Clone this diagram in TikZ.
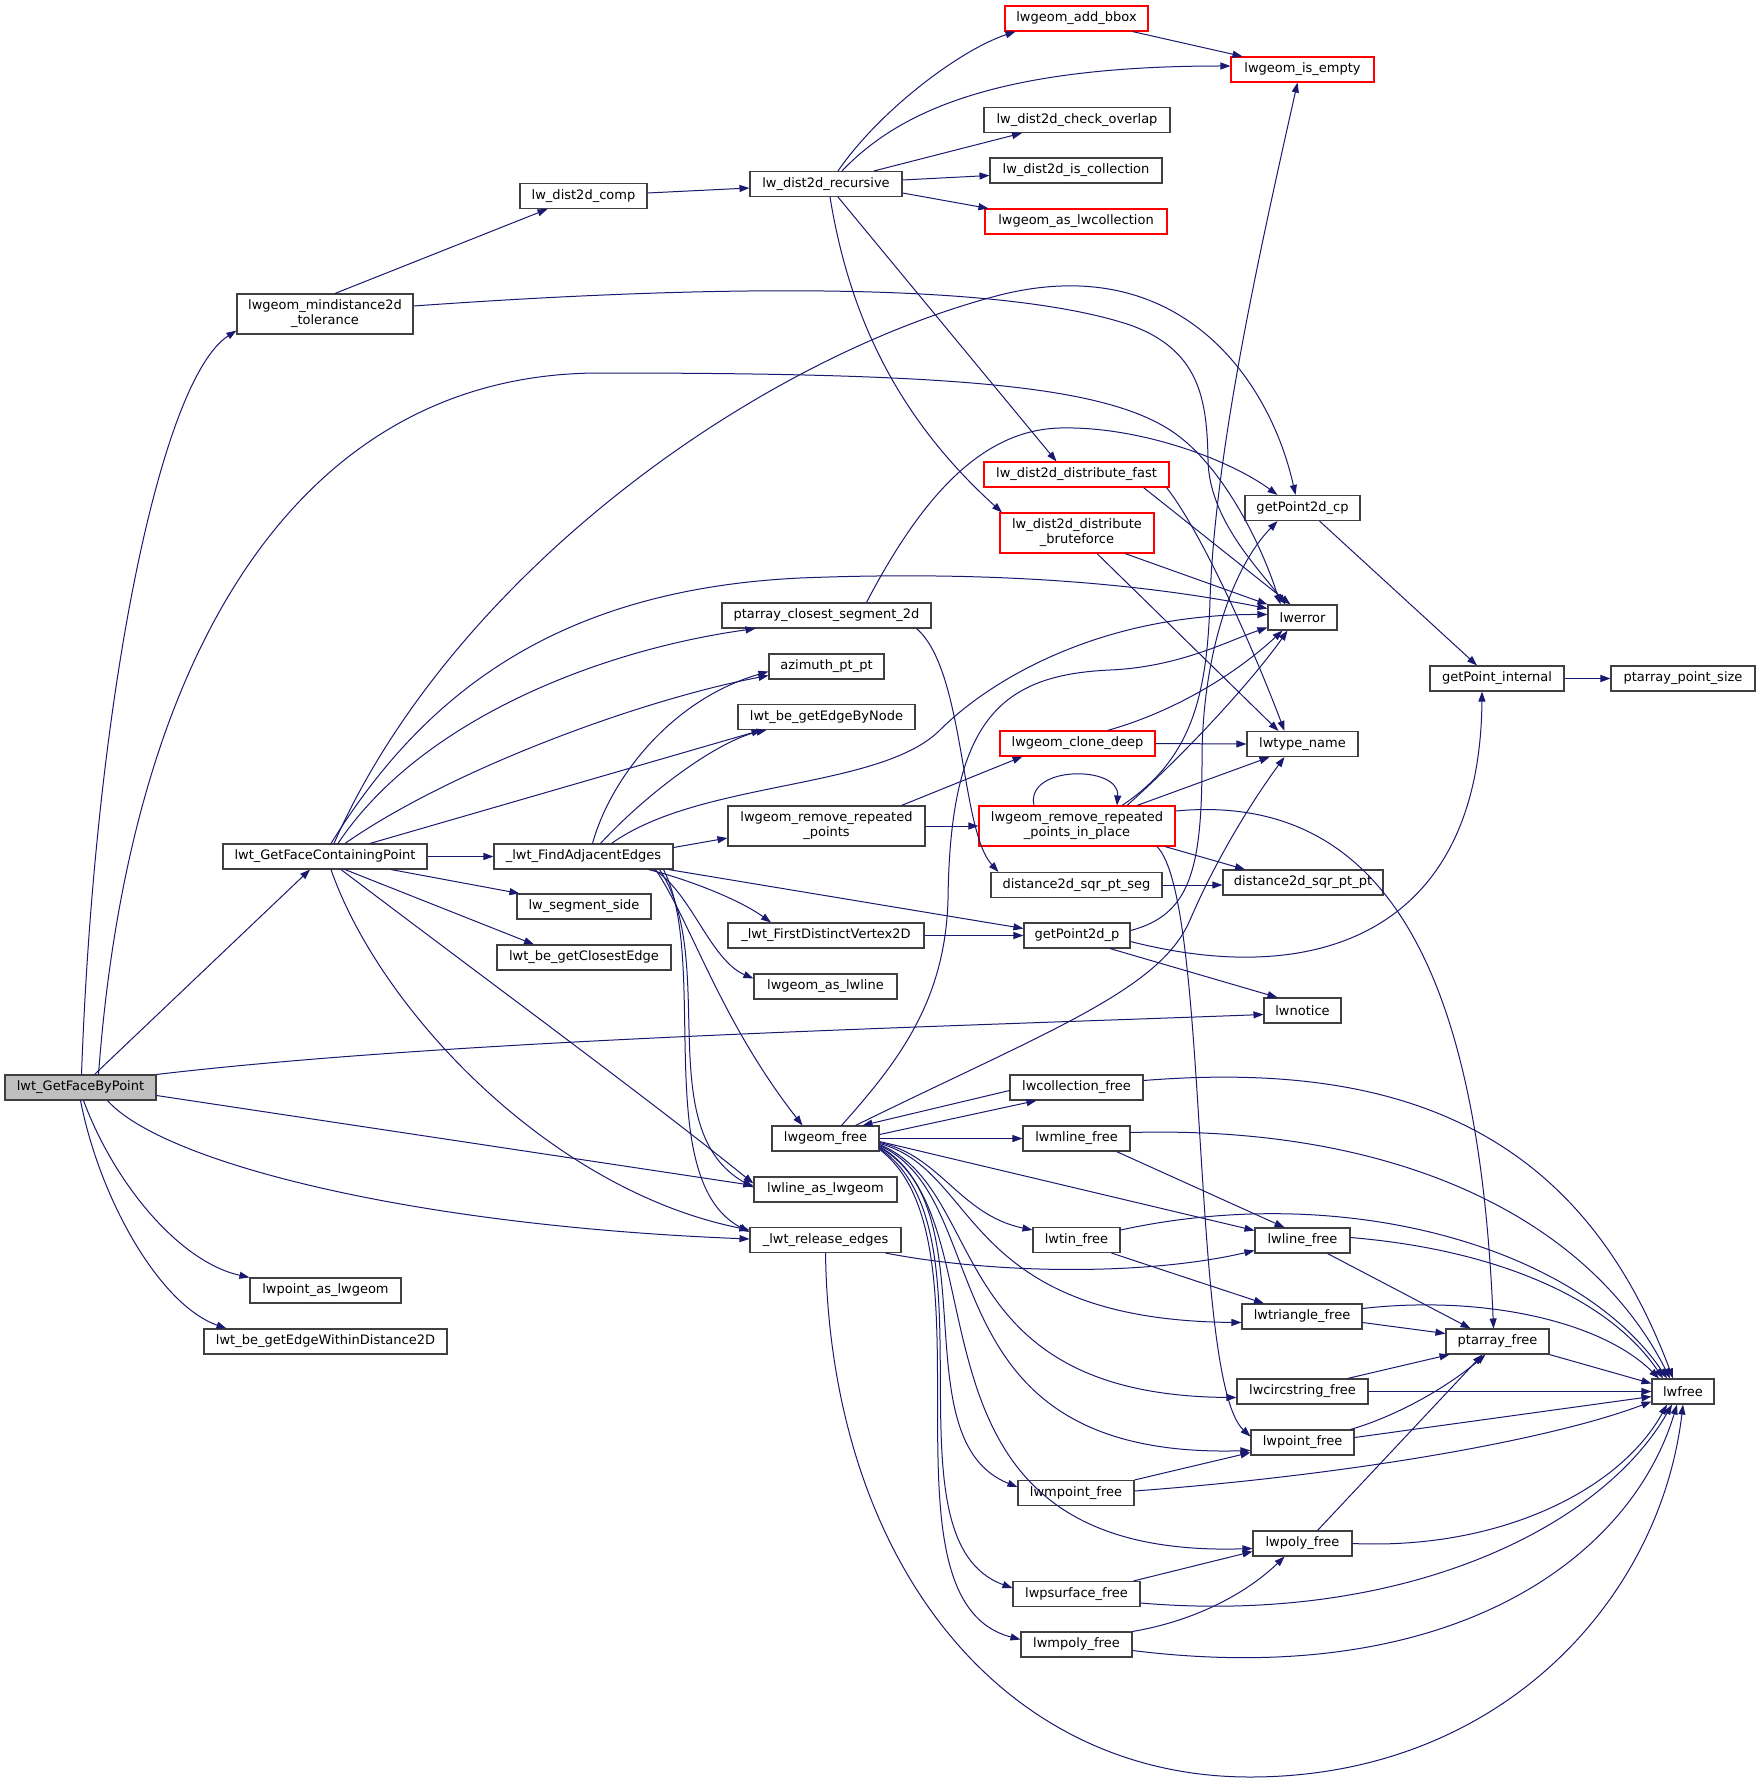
\documentclass[tikz,border=0pt]{standalone}
\usepackage{fontspec}
\setmainfont{DejaVu Sans}
\usetikzlibrary{arrows.meta}
\definecolor{edgeblue}{HTML}{191970}
\definecolor{boxline}{HTML}{404040}
\definecolor{boxred}{HTML}{FF0000}
\definecolor{curfill}{HTML}{BFBFBF}
\tikzset{
  fn/.style={draw=boxline, line width=1.1pt, fill=white, inner xsep=2pt, inner ysep=0pt,
    minimum height=25pt, font=\fontsize{13}{15}\selectfont, align=center},
  fnred/.style={fn, draw=boxred},
  fntwo/.style={minimum height=40pt},
  call/.style={draw=edgeblue, line width=1pt, -{Triangle[length=10pt,width=7pt]}},
}
\begin{document}
\begin{tikzpicture}[x=1pt,y=-1pt]
\useasboundingbox[fill=white] (0,0) rectangle (1760,1784);
% ---------------- nodes
\node[fn, fill=curfill, minimum width=151pt] (F) at (80.5,1087.5) {lwt\_GetFaceByPoint};
\node[fn, fntwo, minimum width=176pt] (mind) at (325,314) {lwgeom\_mindistance2d\\\_tolerance};
\node[fn, minimum width=127pt] (comp) at (583.5,196) {lw\_dist2d\_comp};
\node[fn, minimum width=152pt] (rec) at (826,184) {lw\_dist2d\_recursive};
\node[fnred, minimum width=143pt] (bbox) at (1076.5,18.5) {lwgeom\_add\_bbox};
\node[fnred, minimum width=143pt] (empty) at (1302.5,69.5) {lwgeom\_is\_empty};
\node[fn, minimum width=186pt] (overlap) at (1077,120) {lw\_dist2d\_check\_overlap};
\node[fn, minimum width=172pt] (iscoll) at (1076,170.5) {lw\_dist2d\_is\_collection};
\node[fnred, minimum width=182pt] (aslwcoll) at (1076,221.5) {lwgeom\_as\_lwcollection};
\node[fnred, minimum width=185pt] (fast) at (1076.5,474.5) {lw\_dist2d\_distribute\_fast};
\node[fnred, fntwo, minimum width=154pt] (brute) at (1077,533) {lw\_dist2d\_distribute\\\_bruteforce};
\node[fn, minimum width=115pt] (gp2cp) at (1302.5,508) {getPoint2d\_cp};
\node[fn, minimum width=69pt] (lwerror) at (1302.5,617.5) {lwerror};
\node[fn, minimum width=134pt] (gpint) at (1497,678.5) {getPoint\_internal};
\node[fn, minimum width=144pt] (ptsize) at (1683,678.5) {ptarray\_point\_size};
\node[fn, minimum width=209pt] (pcs2d) at (826.5,615.5) {ptarray\_closest\_segment\_2d};
\node[fn, minimum width=115pt] (azim) at (826.5,666.5) {azimuth\_pt\_pt};
\node[fn, minimum width=177pt] (getEBN) at (826.5,717) {lwt\_be\_getEdgeByNode};
\node[fnred, minimum width=155pt] (clone) at (1077.5,743.5) {lwgeom\_clone\_deep};
\node[fn, minimum width=111pt] (tname) at (1302.5,744) {lwtype\_name};
\node[fn, minimum width=204pt] (GFCP) at (325,856.5) {lwt\_GetFaceContainingPoint};
\node[fn, minimum width=179pt] (FAE) at (583.5,856.5) {\_lwt\_FindAdjacentEdges};
\node[fn, fntwo, minimum width=197pt] (rrp) at (826.5,826) {lwgeom\_remove\_repeated\\\_points};
\node[fnred, fntwo, minimum width=196pt] (rrpip) at (1077,826) {lwgeom\_remove\_repeated\\\_points\_in\_place};
\node[fn, minimum width=171pt] (d2seg) at (1076.5,885) {distance2d\_sqr\_pt\_seg};
\node[fn, minimum width=160pt] (d2pt) at (1303,882.5) {distance2d\_sqr\_pt\_pt};
\node[fn, minimum width=134pt] (segside) at (584,906.5) {lw\_segment\_side};
\node[fn, minimum width=174pt] (closest) at (584,957.5) {lwt\_be\_getClosestEdge};
\node[fn, minimum width=196pt] (FDV) at (826,935.5) {\_lwt\_FirstDistinctVertex2D};
\node[fn, minimum width=106pt] (gp2p) at (1077,935.5) {getPoint2d\_p};
\node[fn, minimum width=143pt] (aslwline) at (825.5,986.5) {lwgeom\_as\_lwline};
\node[fn, minimum width=77pt] (lwnotice) at (1302.5,1010.5) {lwnotice};
\node[fn, minimum width=133pt] (collfree) at (1076.5,1087.5) {lwcollection\_free};
\node[fn, minimum width=107pt] (gfree) at (825.5,1138.5) {lwgeom\_free};
\node[fn, minimum width=107pt] (mlinefree) at (1076.5,1138.5) {lwmline\_free};
\node[fn, minimum width=143pt] (linegeom) at (825.5,1189.5) {lwline\_as\_lwgeom};
\node[fn, minimum width=151pt] (release) at (825.5,1240) {\_lwt\_release\_edges};
\node[fn, minimum width=87pt] (tinfree) at (1076.5,1240) {lwtin\_free};
\node[fn, minimum width=95pt] (linefree) at (1302.5,1240.5) {lwline\_free};
\node[fn, minimum width=120pt] (trifree) at (1302,1316.5) {lwtriangle\_free};
\node[fn, minimum width=103pt] (ptfree) at (1497.5,1341.5) {ptarray\_free};
\node[fn, minimum width=131pt] (circfree) at (1302.5,1391.5) {lwcircstring\_free};
\node[fn, minimum width=62pt] (lwfree) at (1683,1391.5) {lwfree};
\node[fn, minimum width=103pt] (pointfree) at (1302.5,1442.5) {lwpoint\_free};
\node[fn, minimum width=116pt] (mpointfree) at (1076,1493) {lwmpoint\_free};
\node[fn, minimum width=99pt] (polyfree) at (1302.5,1543.5) {lwpoly\_free};
\node[fn, minimum width=127pt] (psurffree) at (1076.5,1594) {lwpsurface\_free};
\node[fn, minimum width=111pt] (mpolyfree) at (1076.5,1644.5) {lwmpoly\_free};
\node[fn, minimum width=151pt] (ptgeom) at (325.5,1290.5) {lwpoint\_as\_lwgeom};
\node[fn, minimum width=243pt] (EWD) at (325.5,1341.5) {lwt\_be\_getEdgeWithinDistance2D};
% ---------------- edges
% lwt_GetFaceByPoint
\draw[call] ([xshift=1pt]F.north) .. controls (95,700) and (160,380) .. ([yshift=4pt]mind.south west);
\draw[call] ([xshift=18pt]F.north) .. controls (130,650) and (300,373) .. (600,373) .. controls (950,373) and (1100,385) .. (1170,430) .. controls (1220,462) and (1260,540) .. ([xshift=-22pt]lwerror.north);
\draw[call] ([xshift=14pt]F.north) -- ([xshift=-15pt]GFCP.south);
\draw[call] (F.north east) .. controls (450,1040) and (900,1028) .. ([yshift=-4pt]lwnotice.west);
\draw[call] ([yshift=-8pt]F.east) -- ([yshift=4pt]linegeom.west);
\draw[call] ([xshift=27pt]F.south) .. controls (160,1160) and (400,1225) .. ([yshift=1pt]release.west);
\draw[call] ([xshift=3pt]F.south) .. controls (115,1185) and (180,1262) .. (ptgeom.north west);
\draw[call] (F.south) .. controls (100,1200) and (160,1305) .. ([xshift=-99pt]EWD.north);
% mindistance
\draw[call] ([xshift=10pt]mind.north) -- ([xshift=-36pt]comp.south);
\draw[call] ([yshift=8pt]mind.east) .. controls (750,282) and (1010,285) .. (1130,325) .. controls (1200,350) and (1207,400) .. (1208,460) .. controls (1209,520) and (1260,570) .. ([xshift=-17pt]lwerror.north);
% comp / recursive
\draw[call] ([yshift=3pt]comp.east) -- ([yshift=-4pt]rec.west);
\draw[call] ([xshift=12pt]rec.north) .. controls (880,110) and (960,50) .. ([xshift=-61pt]bbox.south);
\draw[call] ([xshift=16pt]rec.north) .. controls (900,110) and (1000,66) .. ([yshift=3.5pt]empty.west);
\draw[call] ([xshift=48pt]rec.north) -- ([xshift=-55pt]overlap.south);
\draw[call] ([yshift=4pt]rec.east) -- ([yshift=-5pt]iscoll.west);
\draw[call] ([yshift=-9pt]rec.east) -- ([xshift=4pt]aslwcoll.north west);
\draw[call] ([xshift=12pt]rec.south) -- ([xshift=-20pt]fast.north);
\draw[call] ([xshift=4pt]rec.south) .. controls (850,320) and (900,420) .. ([xshift=-75pt]brute.north);
\draw[call] ([xshift=56pt]bbox.south) -- ([xshift=-60pt]empty.north);
% distribute
\draw[call] ([xshift=67pt]fast.south) -- ([xshift=-12pt]lwerror.north);
\draw[call] ([xshift=90pt]fast.south) .. controls (1200,530) and (1250,640) .. ([xshift=-18pt]tname.north);
\draw[call] ([xshift=48pt]brute.south) -- (lwerror.north west);
\draw[call] ([xshift=20pt]brute.south) -- ([xshift=-24pt]tname.north);
% getPoint
\draw[call] ([xshift=17pt]gp2cp.south) -- ([xshift=-20pt]gpint.north);
\draw[call] (gpint.east) -- (ptsize.west);
% GetFaceContainingPoint
\draw[call] ([xshift=9pt]GFCP.north) .. controls (450,580) and (750,360) .. (1000,295) .. controls (1180,250) and (1270,380) .. ([xshift=-7pt]gp2cp.north);
\draw[call] ([xshift=6pt]GFCP.north) .. controls (420,700) and (550,590) .. (800,578) .. controls (1000,570) and (1150,585) .. ([yshift=9pt]lwerror.west);
\draw[call] ([xshift=13pt]GFCP.north) .. controls (420,720) and (600,650) .. ([xshift=-71pt]pcs2d.south);
\draw[call] ([xshift=20pt]GFCP.north) .. controls (450,770) and (640,700) .. ([yshift=-9pt]azim.west);
\draw[call] ([xshift=45pt]GFCP.north) -- ([xshift=-65pt]getEBN.south);
\draw[call] (GFCP.east) -- (FAE.west);
\draw[call] ([xshift=66pt]GFCP.south) -- ([xshift=3pt]segside.north west);
\draw[call] ([xshift=20pt]GFCP.south) -- ([xshift=-50pt]closest.north);
\draw[call] ([xshift=16pt]GFCP.south) .. controls (500,990) and (650,1100) .. ([yshift=6pt]linegeom.west);
\draw[call] ([xshift=6pt]GFCP.south) .. controls (380,1010) and (550,1190) .. ([yshift=10pt]release.west);
% FindAdjacentEdges
\draw[call] ([xshift=28pt]FAE.north) .. controls (700,780) and (880,790) .. (940,730) .. controls (990,680) and (1100,614) .. ([yshift=3pt]lwerror.west);
\draw[call] ([xshift=9pt]FAE.north) .. controls (610,780) and (670,700) .. ([yshift=-5pt]azim.west);
\draw[call] ([xshift=17pt]FAE.north) .. controls (650,790) and (720,740) .. ([xshift=-60pt]getEBN.south);
\draw[call] ([yshift=9pt]FAE.east) -- ([yshift=-12pt]rrp.west);
\draw[call] ([xshift=85pt]FAE.south) -- ([yshift=7pt]gp2p.west);
\draw[call] ([xshift=65pt]FAE.south) .. controls (690,880) and (740,900) .. ([xshift=-55pt]FDV.north);
\draw[call] ([xshift=70pt]FAE.south) .. controls (690,890) and (710,960) .. ([yshift=8pt]aslwline.west);
\draw[call] ([xshift=72pt]FAE.south) .. controls (690,920) and (720,1020) .. ([xshift=-23pt]gfree.north);
\draw[call] ([xshift=76pt]FAE.south) .. controls (720,960) and (650,1130) .. ([yshift=2pt]linegeom.west);
\draw[call] ([xshift=80pt]FAE.south) .. controls (710,960) and (650,1180) .. ([yshift=8pt]release.west);
% remove repeated
\draw[call] ([xshift=75pt]rrp.north) -- ([xshift=-55pt]clone.south);
\draw[call] (rrp.east) -- (rrpip.west);
\draw[call] ([xshift=-43pt]rrpip.north) .. controls (1025,765) and (1120,765) .. ([xshift=40pt]rrpip.north);
\draw[call] ([xshift=50pt]rrpip.north) .. controls (1200,740) and (1260,670) .. ([xshift=-15pt]lwerror.south);
\draw[call] ([xshift=45pt]rrpip.north) .. controls (1190,760) and (1207,700) .. (1210,600) .. controls (1215,450) and (1260,250) .. ([xshift=-5pt]empty.south);
\draw[call] ([xshift=60pt]rrpip.north) -- ([xshift=-33pt]tname.south);
\draw[call] ([xshift=88pt]rrpip.south) -- ([xshift=-58pt]d2pt.north);
\draw[call] ([yshift=15pt]rrpip.east) .. controls (1400,790) and (1480,1000) .. ([xshift=-4pt]ptfree.north);
\draw[call] ([xshift=80pt]rrpip.south) .. controls (1210,900) and (1190,1380) .. ([yshift=6pt]pointfree.west);
% clone
\draw[call] ([xshift=30pt]clone.north) .. controls (1180,710) and (1240,670) .. ([xshift=-20pt]lwerror.south);
\draw[call] (clone.east) -- (tname.west);
% distance / closest segment
\draw[call] (d2seg.east) -- ([yshift=-2.5pt]d2pt.west);
\draw[call] ([xshift=40pt]pcs2d.north) .. controls (920,500) and (980,430) .. (1060,428) .. controls (1140,426) and (1230,460) .. ([xshift=-25pt]gp2cp.north);
\draw[call] ([xshift=90pt]pcs2d.south) .. controls (965,670) and (960,830) .. ([xshift=-78pt]d2seg.north);
% first distinct vertex / getPoint2d_p
\draw[call] (FDV.east) -- (gp2p.west);
\draw[call] ([yshift=5pt]gp2p.east) .. controls (1190,915) and (1202,870) .. (1202,760) .. controls (1202,660) and (1230,570) .. ([xshift=-25pt]gp2cp.south);
\draw[call] ([yshift=-6pt]gp2p.east) .. controls (1320,990) and (1480,930) .. ([xshift=-15pt]gpint.south);
\draw[call] ([xshift=33pt]gp2p.south) -- ([xshift=-25pt]lwnotice.north);
% lwgeom_free
\draw[call] ([xshift=16pt]gfree.north) .. controls (900,1060) and (945,1000) .. (948,900) .. controls (950,720) and (1000,675) .. (1110,670) .. controls (1180,667) and (1230,640) .. ([yshift=-10pt]lwerror.west);
\draw[call] ([xshift=30pt]gfree.north) .. controls (1050,1030) and (1160,990) .. (1190,920) .. controls (1220,850) and (1260,790) .. ([xshift=-18pt]tname.south);
\draw[call] ([yshift=4pt]gfree.east) -- ([xshift=-40pt]collfree.south);
\draw[call] ([yshift=-3pt]collfree.west) -- ([xshift=37pt]gfree.north);
\draw[call] (gfree.east) -- (mlinefree.west);
\draw[call] ([yshift=-3pt]gfree.east) -- ([yshift=10pt]linefree.west);
\draw[call] ([yshift=-4pt]gfree.east) .. controls (940,1155) and (960,1215) .. ([yshift=10pt]tinfree.west);
\draw[call] ([yshift=-5pt]gfree.east) .. controls (980,1170) and (960,1320) .. ([yshift=-6pt]trifree.west);
\draw[call] ([yshift=-6pt]gfree.east) .. controls (990,1190) and (940,1395) .. ([yshift=-6pt]circfree.west);
\draw[call] ([yshift=-7pt]gfree.east) .. controls (1000,1200) and (920,1460) .. ([yshift=-8pt]pointfree.west);
\draw[call] ([yshift=-8pt]gfree.east) .. controls (990,1210) and (900,1440) .. ([yshift=6pt]mpointfree.west);
\draw[call] ([yshift=-9pt]gfree.east) .. controls (1010,1220) and (880,1560) .. ([yshift=-5pt]polyfree.west);
\draw[call] ([yshift=-10pt]gfree.east) .. controls (1000,1230) and (880,1540) .. ([yshift=6pt]psurffree.west);
\draw[call] ([yshift=-11pt]gfree.east) .. controls (1000,1240) and (870,1600) .. ([yshift=5pt]mpolyfree.west);
% free functions
\draw[call] ([yshift=7pt]collfree.east) .. controls (1400,1060) and (1580,1130) .. ([xshift=-10pt]lwfree.north);
\draw[call] ([yshift=6pt]mlinefree.east) .. controls (1400,1125) and (1590,1220) .. ([xshift=-13pt]lwfree.north);
\draw[call] ([xshift=40pt]mlinefree.south) -- ([xshift=-18pt]linefree.north);
\draw[call] ([yshift=10pt]tinfree.east) .. controls (1350,1180) and (1580,1250) .. ([xshift=-16pt]lwfree.north);
\draw[call] ([xshift=35pt]tinfree.south) -- ([xshift=-38pt]trifree.north);
\draw[call] ([yshift=3pt]linefree.east) .. controls (1500,1250) and (1610,1300) .. ([xshift=-20pt]lwfree.north);
\draw[call] ([xshift=25pt]linefree.south) -- ([xshift=-27pt]ptfree.north);
\draw[call] ([xshift=60pt]release.south) .. controls (1000,1275) and (1150,1275) .. ([yshift=-10pt]linefree.west);
\draw[call] (release.south) .. controls (830,1560) and (1000,1777) .. (1250,1777) .. controls (1500,1777) and (1660,1600) .. (lwfree.south);
\draw[call] ([yshift=8pt]trifree.east) .. controls (1480,1295) and (1600,1320) .. ([xshift=-24pt]lwfree.north);
\draw[call] ([yshift=-6pt]trifree.east) -- ([yshift=8pt]ptfree.west);
\draw[call] ([xshift=45pt]circfree.north) -- ([xshift=-48pt]ptfree.south);
\draw[call] (circfree.east) -- (lwfree.west);
\draw[call] ([xshift=48pt]pointfree.north) .. controls (1400,1415) and (1450,1385) .. ([xshift=-12pt]ptfree.south);
\draw[call] ([yshift=5pt]pointfree.east) -- ([yshift=-5pt]lwfree.west);
\draw[call] (mpointfree.north east) -- ([yshift=-10pt]pointfree.west);
\draw[call] ([yshift=2pt]mpointfree.east) .. controls (1350,1475) and (1550,1440) .. ([yshift=-10pt]lwfree.west);
\draw[call] ([xshift=15pt]polyfree.north) -- ([xshift=-15pt]ptfree.south);
\draw[call] (polyfree.east) .. controls (1500,1550) and (1620,1490) .. ([xshift=-16pt]lwfree.south);
\draw[call] ([xshift=57pt]psurffree.north) -- ([yshift=-8pt]polyfree.west);
\draw[call] ([yshift=-9pt]psurffree.east) .. controls (1400,1625) and (1600,1530) .. ([xshift=-11pt]lwfree.south);
\draw[call] (mpolyfree.north east) .. controls (1200,1620) and (1250,1590) .. ([xshift=-18pt]polyfree.south);
\draw[call] ([yshift=-6pt]mpolyfree.east) .. controls (1450,1690) and (1630,1560) .. ([xshift=-6pt]lwfree.south);
\draw[call] (ptfree.south east) -- ([yshift=8pt]lwfree.west);
\end{tikzpicture}
\end{document}
